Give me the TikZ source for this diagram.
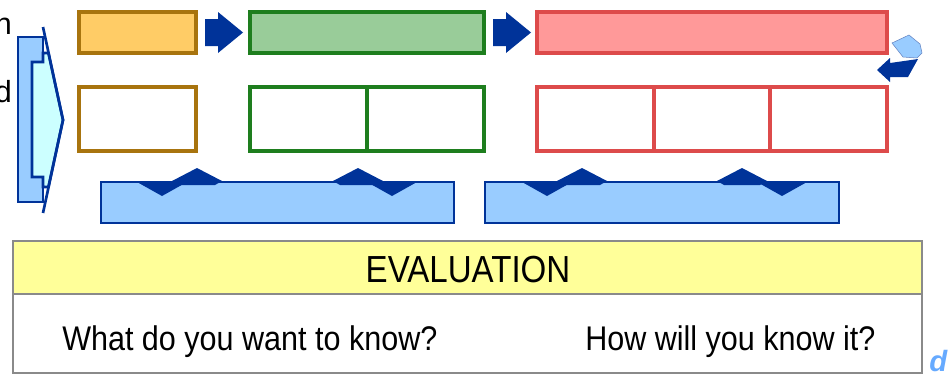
\documentclass[tikz,border=0pt]{standalone}
\usepackage{fontspec}
\usepackage{graphicx}
\setmainfont{Liberation Sans}
\usetikzlibrary{fit}
\definecolor{dblue}{HTML}{003399}
\definecolor{lblue}{HTML}{99CCFF}
\definecolor{lcyan}{HTML}{CCFFFF}
\definecolor{ofill}{HTML}{FFCC66}
\definecolor{oline}{HTML}{A8740E}
\definecolor{gfill}{HTML}{99CC99}
\definecolor{gline}{HTML}{1E7E1E}
\definecolor{rfill}{HTML}{FF9999}
\definecolor{rline}{HTML}{DD4B4B}
\definecolor{yfill}{HTML}{FFFF99}
\definecolor{egray}{HTML}{8A8A8A}
\definecolor{wmark}{HTML}{66AAFF}
\tikzset{
  bx/.style={inner sep=0pt, line width=2.3pt},
  obox/.style={bx, draw=oline},
  gbox/.style={bx, draw=gline},
  rbox/.style={bx, draw=rline},
  barbox/.style={inner sep=0pt, draw=dblue, fill=lblue, line width=2.1pt},
  flowarrow/.style={fill=dblue},
  chev/.style={fill=dblue},
  txt/.style={font=\fontsize{22.9}{27}\selectfont, inner sep=0pt},
}
\begin{document}
\begin{tikzpicture}[x=0.75pt,y=-0.75pt]
\useasboundingbox (0,0) rectangle (949,375);
% cut-off text at left
\node[txt, anchor=base east] (tn) at (12,34) {n};
\node[txt, anchor=base east] (td) at (12,102) {d};
% left big arrow
\path[fill=lblue, draw=dblue, line width=2pt] (18,37) rectangle (43,202);
\path[fill=lcyan, draw=dblue, line width=2pt]
  (32,62) -- (43,62) -- (43,53) -- (48.4,53) -- (63,120) -- (48.4,187) -- (43,187) -- (43,177) -- (32,177) -- cycle;
\draw[dblue, line width=2pt] (43,27) -- (63,120) -- (43,213);
% top row
\node[obox, fill=ofill, fit={(79,12)(196,53)}] (o1) {};
\node[gbox, fill=gfill, fit={(250,12)(484,53)}] (g1) {};
\node[rbox, fill=rfill, fit={(537,12)(887,53)}] (r1) {};
% flow arrows
\path[flowarrow] (205,19) -- (218,19) -- (218,12) -- (243,32.5) -- (218,53) -- (218,46) -- (205,46) -- cycle;
\path[flowarrow] (493,19) -- (506,19) -- (506,12) -- (531,32.5) -- (506,53) -- (506,46) -- (493,46) -- cycle;
% return arrow at right
\path[fill=lblue, draw=dblue!60, line width=0.4pt] (892,43) -- (909,35) -- (920,44) -- (922,53) -- (917,58) -- (903,57) -- cycle;
\path[flowarrow] (877,70) -- (890,58) -- (890,63) -- (918,59) -- (908,77) -- (890,77) -- (890,82) -- cycle;
% second row
\node[obox, fit={(79,87)(196,151)}] (o2) {};
\node[gbox, fit={(250,87)(484,151)}] (g2) {};
\draw[gline, line width=2.3pt] (367,87) -- (367,151);
\node[rbox, fit={(537,87)(887,151)}] (r2) {};
\draw[rline, line width=2.3pt] (654,87) -- (654,151) (770,87) -- (770,151);
% blue bars
\node[barbox, fit={(101,182)(454,223)}] (b1) {};
\node[barbox, fit={(485,182)(839,223)}] (b2) {};
% chevrons
\foreach \cx in {197,358,582,742}{
  \path[chev] (\cx-25,181) -- (\cx,168) -- (\cx+25,181) -- (\cx+18,185) -- (\cx-18,185) -- cycle;
}
\foreach \cx in {162,392,547,782}{
  \path[chev] (\cx-25,182) -- (\cx+25,182) -- (\cx,196) -- cycle;
}
% evaluation
\node[fit={(13,241)(922,294)}, inner sep=0pt, fill=yfill, draw=egray, line width=1.8pt] (evh) {};
\node[fit={(13,294)(922,373)}, inner sep=0pt, draw=egray, line width=1.8pt] (evb) {};
\node[font=\fontsize{24.8}{28}\selectfont, inner sep=0pt, anchor=base] (evt) at (468,282) {\scalebox{1}[1.14]{EVALUATION}};
\node[txt, anchor=base west] (q1) at (62,350) {\scalebox{1}[1.12]{What do you want to know?}};
\node[txt, anchor=base west] (q2) at (585,350) {\scalebox{1}[1.12]{How will you know it?}};
\node[font=\fontsize{22}{26}\selectfont\bfseries\itshape, text=wmark, inner sep=0pt, anchor=base west] (wm) at (929,371) {d};
\end{tikzpicture}
\end{document}
